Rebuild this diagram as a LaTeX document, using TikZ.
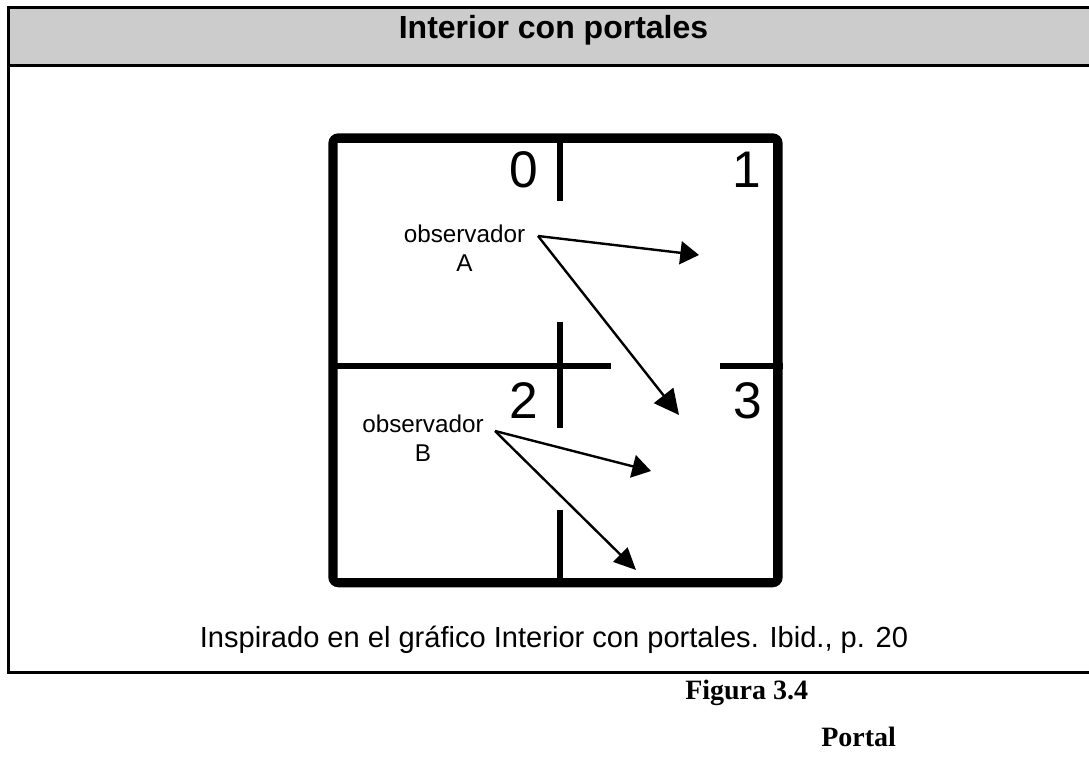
\documentclass[tikz,border=0pt]{standalone}
\usepackage{fontspec}
\setmainfont{Liberation Sans}
\newfontfamily\capfont{Liberation Serif}
\usetikzlibrary{arrows.meta}
\tikzset{
  px/.style={x=0.75pt,y=-0.75pt},
  frameline/.style={line width=2.3pt,line cap=butt},
  thinwall/.style={line width=3.8pt,line cap=butt},
  raya/.style={line width=1.8pt,-{Triangle[length=18.7pt,width=18.3pt]}},
  rayb/.style={line width=1.8pt,-{Triangle[length=14pt,width=17.2pt]}},
  rayc/.style={line width=1.8pt,-{Triangle[length=16.5pt,width=15pt]}},
  obs/.style={font=\fontsize{18.2pt}{21.7pt}\selectfont,inner sep=0pt,anchor=base},
  num/.style={font=\fontsize{38.6pt}{42pt}\selectfont,inner sep=0pt,anchor=base},
  figcap/.style={font=\capfont\bfseries\fontsize{21pt}{24pt}\selectfont,inner sep=0pt,anchor=base west},
}
\begin{document}
\begin{tikzpicture}[px]
\useasboundingbox (0,0) rectangle (1089,763);
\fill[white] (0,0) rectangle (1089,763);
\fill[black!20] (8.3,7.3) rectangle (1089,65.3);
\draw[frameline] (1089,7.3) -- (8.3,7.3) -- (8.3,672.3) -- (1089,672.3);
\draw[frameline] (8.3,65.3) -- (1089,65.3);
\node[font=\bfseries\fontsize{24pt}{28pt}\selectfont,inner sep=0pt,anchor=base] (title) at (553.5,38.5) {Interior con portales};
\fill[even odd rule] [rounded corners=7.5pt] (328.3,133.3) rectangle (782.7,587.3) [sharp corners] (337.5,143) rectangle (773.2,578);
\draw[thinwall] (335,366) -- (611,366);
\draw[thinwall] (720,366) -- (783,366);
\draw[thinwall] (560,140) -- (560,201);
\draw[thinwall] (560,322) -- (560,428);
\draw[thinwall] (560,510) -- (560,580);
\node[num] (n0) at (523.5,188) {0};
\node[num] (n1) at (747,188) {1};
\node[num] (n2) at (523.5,418) {2};
\node[num] (n3) at (747.5,418) {3};
\node[obs] (obsA) at (464.5,243) {observador};
\node[obs] (obsAl) at (464.5,272) {A};
\node[obs] (obsB) at (423,432) {observador};
\node[obs] (obsBl) at (423,461) {B};
\coordinate (a0) at (538,236);
\coordinate (a1) at (699,255);
\coordinate (a2) at (679,415);
\coordinate (b0) at (495,431);
\coordinate (b1) at (651,471);
\coordinate (b2) at (636,570);
\draw[rayb] (a0) -- (a1);
\draw[raya] (a0) -- (a2);
\draw[rayb] (b0) -- (b1);
\draw[rayc] (b0) -- (b2);
\node[font=\fontsize{21.8pt}{26pt}\selectfont,inner sep=0pt,anchor=base] (cap) at (554,647.5) {Inspirado en el gráfico Interior con portales. Ibid., p. 20};
\node[figcap] (fig) at (685,699.5) {Figura 3.4};
\node[figcap] (portal) at (821,746.5) {Portal};
\end{tikzpicture}
\end{document}
